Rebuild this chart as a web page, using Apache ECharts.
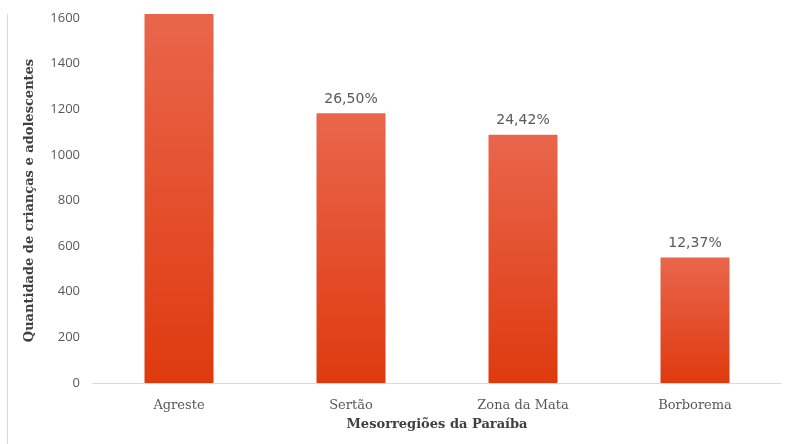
<!DOCTYPE html>
<html>
<head>
<meta charset="utf-8">
<script src="https://cdn.jsdelivr.net/npm/echarts@6/dist/echarts.min.js"></script>
<style>
  html, body { margin: 0; padding: 0; background: #fff; }
  #chart { width: 789px; height: 444px; }
</style>
</head>
<body>
<div id="chart"></div>
<script>
const categories = ["Agreste", "Sertão", "Zona da Mata", "Borborema"];
const quantities = [1635, 1182, 1088, 550];
const percentLabels = ["36,71%", "26,50%", "24,42%", "12,37%"];
const showLabel = [false, true, true, true];
const yTicks = [0, 200, 400, 600, 800, 1000, 1200, 1400, 1600];

const chart = echarts.init(document.getElementById("chart"));

const barColor = new echarts.graphic.LinearGradient(0, 0, 0, 1, [
  { offset: 0, color: "#e9664c" },
  { offset: 1, color: "#df3a0f" },
]);

const option = {
  animation: false,
  grid: { left: 93, right: 8, top: 18, bottom: 61 },
  xAxis: {
    type: "category",
    data: categories,
    name: "Mesorregiões da Paraíba",
    nameLocation: "middle",
    nameGap: 35,
    nameTextStyle: { fontFamily: "DejaVu Serif", fontWeight: "bold", fontSize: 13, color: "#404040" },
    axisLine: { lineStyle: { color: "#d9d9d9" } },
    axisTick: { show: false },
    axisLabel: { fontFamily: "DejaVu Serif", fontSize: 13, color: "#595959", margin: 16 },
  },
  yAxis: {
    type: "value",
    min: yTicks[0],
    max: yTicks[yTicks.length - 1],
    interval: 200,
    name: "Quantidade de crianças e adolescentes",
    nameLocation: "middle",
    nameGap: 57,
    nameTextStyle: { fontFamily: "DejaVu Serif", fontWeight: "bold", fontSize: 13, color: "#404040" },
    splitLine: { show: false },
    axisLine: { show: false },
    axisLabel: {
      fontFamily: "Open Sans",
      fontSize: 13,
      color: "#595959",
      margin: 13,
      formatter: (v) => String(v),
    },
  },
  series: [
    {
      type: "bar",
      data: quantities.map((v, i) => ({
        value: v,
        label: { show: showLabel[i], formatter: percentLabels[i] },
      })),
      barWidth: 69,
      clip: false,
      itemStyle: { color: barColor },
      label: {
        position: "top",
        distance: 7,
        fontFamily: "DejaVu Sans",
        fontSize: 14,
        color: "#595959",
      },
    },
  ],
  graphic: [
    { type: "rect", shape: { x: 120, y: 0, width: 200, height: 14 }, style: { fill: "#fff" }, z: 100 },
    { type: "line", shape: { x1: 7.5, y1: 14, x2: 7.5, y2: 444 }, style: { stroke: "#d9d9d9", lineWidth: 1 }, z: 100 },
  ],
};

chart.setOption(option);
</script>
</body>
</html>
